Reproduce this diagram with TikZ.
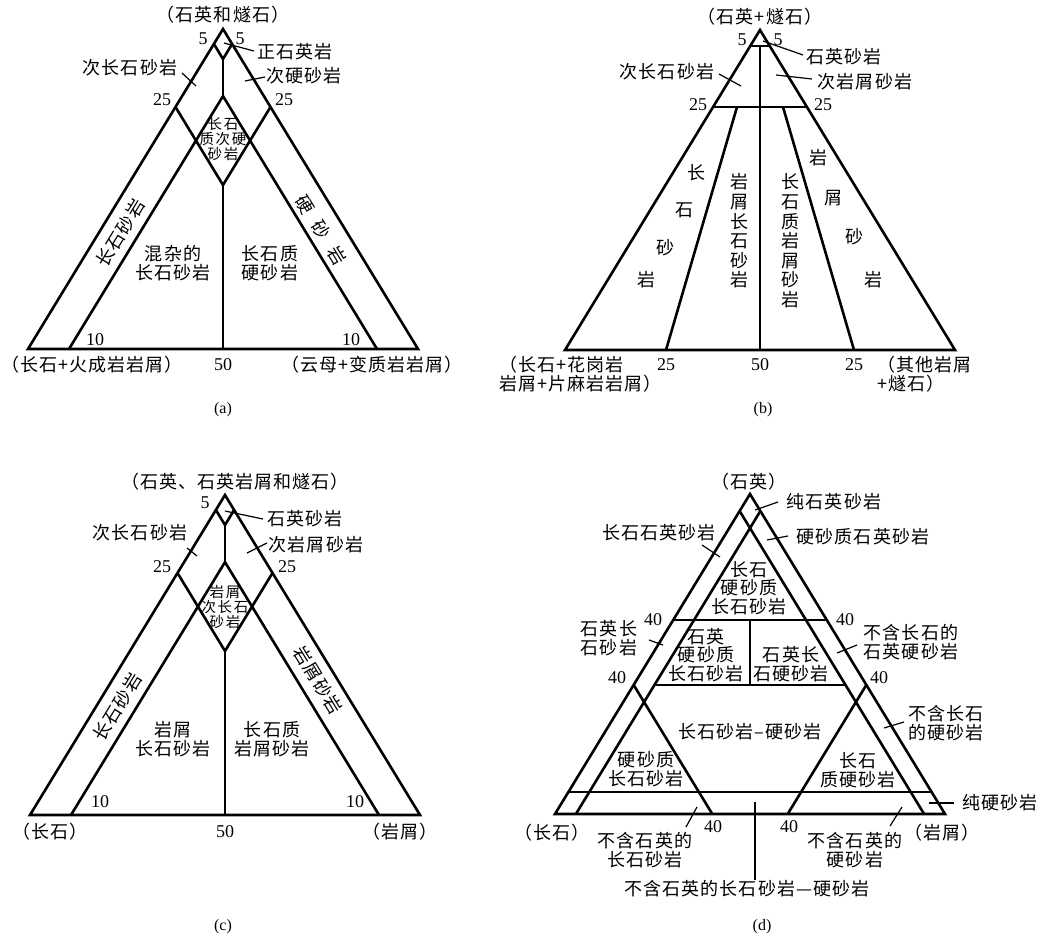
\documentclass[tikz,border=0pt]{standalone}
\usepackage{fontspec}
\setmainfont{Noto Sans CJK SC}[LetterSpace=6]
\newfontfamily\numf{Liberation Serif}
\newcommand\Lf{\fontsize{18}{19}\selectfont}
\newcommand\Df{\fontsize{18}{18.5}\selectfont}
\newcommand\Sf{\fontsize{14.5}{14.8}\selectfont\addfontfeature{LetterSpace=12}}
\newcommand\Vf{\fontsize{18}{19.6}\selectfont}
\newcommand\Nf{\fontsize{18}{19}\numf}
\newcommand\Cf{\fontsize{16}{18}\numf}
\begin{document}
\begin{tikzpicture}[x=1pt,y=-1pt,
  tframe/.style={line width=2.6pt,line join=miter},
  seg/.style={line width=2.6pt},
  lead/.style={line width=1.2pt},
  lab/.style={inner sep=0pt,font=\Lf,align=center},
  dlab/.style={inner sep=0pt,font=\Df,align=center},
  slab/.style={inner sep=0pt,font=\Sf,align=center},
  vlab/.style={inner sep=0pt,font=\Vf,align=center},
  num/.style={inner sep=0pt,font=\Nf},
  figlab/.style={inner sep=0pt,font=\Cf}]
\useasboundingbox (0,0) rectangle (1044,938);
% ================= (a) =================
\coordinate (aA) at (223,29);
\coordinate (aL) at (28,349);
\coordinate (aR) at (418,349);
\coordinate (a5l) at (213.9,44);
\coordinate (a5r) at (232.1,44);
\coordinate (a5b) at (223,59);
\coordinate (a10l) at (69,349);
\coordinate (a10r) at (377,349);
\coordinate (aDt) at (223,96.1);
\coordinate (a25l) at (175.5,107);
\coordinate (a25r) at (270.5,107);
\coordinate (aDb) at (223,185);
\coordinate (aM) at (223,349);
\draw[tframe] (aA) -- (aL) -- (aR) -- cycle;
\draw[seg] (a5l) -- (a5b) -- (a5r);
\draw[seg] (a5b) -- (aDt);
\draw[seg] (a10l) -- (aDt) -- (a10r);
\draw[seg] (a25l) -- (aDb) -- (a25r);
\draw[seg] (aDb) -- (aM);
\node[lab] (aQ) at (223,15) {（石英和燧石）};
\node[num] (a5L) at (203,39) {5};
\node[num] (a5R) at (240,39) {5};
\node[lab] (aZs) at (295,52) {正石英岩};
\coordinate (aZs1) at (224,43); \coordinate (aZs2) at (254,51);
\draw[lead] (aZs1) -- (aZs2);
\node[lab] (aCf) at (130,68) {次长石砂岩};
\coordinate (aCf1) at (182,73); \coordinate (aCf2) at (196,86);
\draw[lead] (aCf1) -- (aCf2);
\node[lab] (aCy) at (304,76) {次硬砂岩};
\coordinate (aCy1) at (245,81); \coordinate (aCy2) at (265,77);
\draw[lead] (aCy1) -- (aCy2);
\node[num] (a25L) at (162,100) {25};
\node[num] (a25R) at (284,100) {25};
\node[slab] (aDia) at (223,139) {长石\\质次硬\\砂岩};
\node[lab,rotate=58.6] (aF) at (120,233) {长石砂岩};
\node[lab,rotate=-58.6] (aY) at (321,230) {硬\hspace{12pt}砂\hspace{12pt}岩};
\node[lab] (aMix) at (173,263) {混杂的\\长石砂岩};
\node[lab] (aFy) at (270,263) {长石质\\硬砂岩};
\node[num] (a10L) at (95,340) {10};
\node[num] (a10R) at (351,340) {10};
\node[num] (a50) at (223,365) {50};
\node[lab] (aLc) at (92,365) {（长石+火成岩岩屑）};
\node[lab] (aRc) at (372,365) {（云母+变质岩岩屑）};
\node[figlab] (acap) at (223,410) {(a)};
% ================= (b) =================
\coordinate (bA) at (760,30);
\coordinate (bL) at (565,350);
\coordinate (bR) at (955,350);
\coordinate (b5l) at (750.3,46);
\coordinate (b5r) at (769.7,46);
\coordinate (b5m) at (760,46);
\coordinate (b25l) at (713.1,107);
\coordinate (b25r) at (806.9,107);
\coordinate (bil1) at (737,107);
\coordinate (bil2) at (666,350);
\coordinate (bir1) at (783,107);
\coordinate (bir2) at (854,350);
\coordinate (bM) at (760,350);
\draw[tframe] (bA) -- (bL) -- (bR) -- cycle;
\draw[seg] (b5l) -- (b5r);
\draw[seg] (b25l) -- (b25r);
\draw[seg] (b5m) -- (bM);
\draw[seg] (bil1) -- (bil2);
\draw[seg] (bir1) -- (bir2);
\node[lab] (bQ) at (760,17) {（石英+燧石）};
\node[num] (b5L) at (742,40) {5};
\node[num] (b5R) at (778,40) {5};
\node[lab] (bQs) at (844,57) {石英砂岩};
\coordinate (bQs1) at (763,41); \coordinate (bQs2) at (803,55);
\draw[lead] (bQs1) -- (bQs2);
\node[lab] (bCf) at (667,72) {次长石砂岩};
\coordinate (bCf1) at (719,74); \coordinate (bCf2) at (741,86);
\draw[lead] (bCf1) -- (bCf2);
\node[lab] (bCl) at (865,82) {次岩屑砂岩};
\coordinate (bCl1) at (776,75); \coordinate (bCl2) at (812,79);
\draw[lead] (bCl1) -- (bCl2);
\node[num] (b25L) at (698,105) {25};
\node[num] (b25R) at (823,105) {25};
\node[lab] (bF1) at (696,173) {长};
\node[lab] (bF2) at (684,210) {石};
\node[lab] (bF3) at (665,248) {砂};
\node[lab] (bF4) at (646,280) {岩};
\node[vlab] (bLF) at (739,231) {岩\\屑\\长\\石\\砂\\岩};
\node[vlab] (bFL) at (790,241) {长\\石\\质\\岩\\屑\\砂\\岩};
\node[lab] (bR1) at (818,158) {岩};
\node[lab] (bR2) at (833,198) {屑};
\node[lab] (bR3) at (854,237) {砂};
\node[lab] (bR4) at (873,280) {岩};
\node[num] (b25a) at (666,365) {25};
\node[num] (b50) at (760,365) {50};
\node[num] (b25b) at (854,365) {25};
\node[lab,align=left,anchor=west] (bLc) at (499,374) {（长石+花岗岩\\岩屑+片麻岩岩屑）};
\node[lab,align=left,anchor=west] (bRc) at (877,374) {（其他岩屑\\+燧石）};
\node[figlab] (bcap) at (763,410) {(b)};
% ================= (c) =================
\coordinate (cA) at (225,495);
\coordinate (cL) at (30,815);
\coordinate (cR) at (420,815);
\coordinate (c5l) at (215.9,510);
\coordinate (c5r) at (234.1,510);
\coordinate (c5b) at (225,525);
\coordinate (c10l) at (71,815);
\coordinate (c10r) at (379,815);
\coordinate (cDt) at (225,562.1);
\coordinate (c25l) at (177.5,573);
\coordinate (c25r) at (272.5,573);
\coordinate (cDb) at (225,651);
\coordinate (cM) at (225,815);
\draw[tframe] (cA) -- (cL) -- (cR) -- cycle;
\draw[seg] (c5l) -- (c5b) -- (c5r);
\draw[seg] (c5b) -- (cDt);
\draw[seg] (c10l) -- (cDt) -- (c10r);
\draw[seg] (c25l) -- (cDb) -- (c25r);
\draw[seg] (cDb) -- (cM);
\node[lab] (cQ) at (235,482) {（石英、石英岩屑和燧石）};
\node[num] (c5L) at (205,503) {5};
\node[lab] (cQs) at (305,519) {石英砂岩};
\coordinate (cQs1) at (225,511); \coordinate (cQs2) at (263,519);
\draw[lead] (cQs1) -- (cQs2);
\node[lab] (cCf) at (140,533) {次长石砂岩};
\coordinate (cCf1) at (187,548); \coordinate (cCf2) at (197,556);
\draw[lead] (cCf1) -- (cCf2);
\node[lab] (cCl) at (316,545) {次岩屑砂岩};
\coordinate (cCl1) at (247,553); \coordinate (cCl2) at (267,543);
\draw[lead] (cCl1) -- (cCl2);
\node[num] (c25L) at (162,567) {25};
\node[num] (c25R) at (287,567) {25};
\node[slab] (cDia) at (225,607) {岩屑\\次长石\\砂岩};
\node[lab,rotate=58.6] (cF) at (117,707) {长石砂岩};
\node[lab,rotate=-58.6] (cLs) at (318,680) {岩屑砂岩};
\node[lab] (cLF) at (173,739) {岩屑\\长石砂岩};
\node[lab] (cFL) at (272,739) {长石质\\岩屑砂岩};
\node[num] (c10L) at (100,802) {10};
\node[num] (c10R) at (355,802) {10};
\node[num] (c50) at (225,832) {50};
\node[lab] (cLc) at (50,832) {（长石）};
\node[lab] (cRc) at (400,832) {（岩屑）};
\node[figlab] (ccap) at (223,927) {(c)};
% ================= (d) =================
\coordinate (dA) at (750,494);
\coordinate (dL) at (555,814);
\coordinate (dR) at (945,814);
\coordinate (dpl) at (739.6,511);
\coordinate (dpr) at (760.4,511);
\coordinate (dirb) at (924.1,814);
\coordinate (dilb) at (575.9,814);
\coordinate (du1) at (673.3,620);
\coordinate (du2) at (826.7,620);
\coordinate (dum) at (750,620);
\coordinate (dlm) at (750,685);
\coordinate (dl1) at (654.4,685);
\coordinate (dl2) at (845.6,685);
\coordinate (dfl) at (633.7,685);
\coordinate (dflb) at (712.3,814);
\coordinate (dfr) at (866.3,685);
\coordinate (dfrb) at (787.7,814);
\coordinate (db1) at (568.5,792);
\coordinate (db2) at (931.5,792);
\draw[tframe] (dA) -- (dL) -- (dR) -- cycle;
\draw[seg] (dpl) -- (dirb);
\draw[seg] (dpr) -- (dilb);
\draw[seg] (du1) -- (du2);
\draw[seg] (dum) -- (dlm);
\draw[seg] (dl1) -- (dl2);
\draw[seg] (dfl) -- (dflb);
\draw[seg] (dfr) -- (dfrb);
\draw[seg] (db1) -- (db2);
\node[lab] (dQ) at (749,482) {（石英）};
\node[lab] (dPq) at (834,502) {纯石英砂岩};
\coordinate (dPq1) at (755,510); \coordinate (dPq2) at (778,502);
\draw[lead] (dPq1) -- (dPq2);
\node[lab] (dFq) at (659,533) {长石石英砂岩};
\coordinate (dFq1) at (702,545); \coordinate (dFq2) at (720,557);
\draw[lead] (dFq1) -- (dFq2);
\node[lab] (dGq) at (863,537) {硬砂质石英砂岩};
\coordinate (dGq1) at (767,540); \coordinate (dGq2) at (788,536);
\draw[lead] (dGq1) -- (dGq2);
\node[dlab] (dT) at (749,588) {长石\\硬砂质\\长石砂岩};
\node[num] (d40a) at (653,620) {40};
\node[num] (d40b) at (845,620) {40};
\node[lab] (dQf) at (609,638) {石英长\\石砂岩};
\coordinate (dQf1) at (649,640); \coordinate (dQf2) at (663,645);
\draw[lead] (dQf1) -- (dQf2);
\node[dlab] (dM1) at (706,655) {石英\\硬砂质\\长石砂岩};
\node[dlab] (dM2) at (791,664) {石英长\\石硬砂岩};
\node[lab] (dNf) at (911,642) {不含长石的\\石英硬砂岩};
\coordinate (dNf1) at (837,653); \coordinate (dNf2) at (857,645);
\draw[lead] (dNf1) -- (dNf2);
\node[num] (d40c) at (617,678) {40};
\node[num] (d40d) at (879,678) {40};
\node[lab] (dC) at (750,732) {长石砂岩–硬砂岩};
\node[lab] (dNg) at (946,723) {不含长石\\的硬砂岩};
\coordinate (dNg1) at (884,728); \coordinate (dNg2) at (904,722);
\draw[lead] (dNg1) -- (dNg2);
\node[dlab] (dGf) at (646,769) {硬砂质\\长石砂岩};
\node[dlab] (dFg) at (858,770) {长石\\质硬砂岩};
\node[lab] (dPg) at (1000,803) {纯硬砂岩};
\coordinate (dPg1) at (929,803); \coordinate (dPg2) at (954,803);
\draw[lead] (dPg1) -- (dPg2);
\node[num] (d40e) at (713,827) {40};
\node[num] (d40f) at (789,827) {40};
\node[lab] (dLc) at (552,833) {（长石）};
\node[lab] (dRc) at (942,833) {（岩屑）};
\node[lab] (dNq1) at (645,850) {不含石英的\\长石砂岩};
\coordinate (dNq1a) at (686,827); \coordinate (dNq1b) at (697,807);
\draw[lead] (dNq1a) -- (dNq1b);
\node[lab] (dNq2) at (855,850) {不含石英的\\硬砂岩};
\coordinate (dNq2a) at (890,826); \coordinate (dNq2b) at (902,807);
\draw[lead] (dNq2a) -- (dNq2b);
\node[lab] (dNq3) at (747,889) {不含石英的长石砂岩—硬砂岩};
\coordinate (dNq3a) at (755,802); \coordinate (dNq3b) at (755,880);
\draw[lead] (dNq3a) -- (dNq3b);
\node[figlab] (dcap) at (762,927) {(d)};
\end{tikzpicture}
\end{document}
